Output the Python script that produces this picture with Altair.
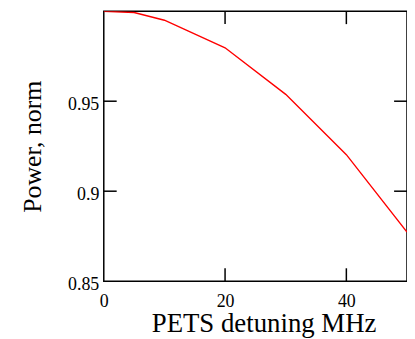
import altair as alt
import pandas as pd

detuning = [0, 5, 10, 20, 30, 40, 50]
power = [1.0, 0.9993, 0.995, 0.9797, 0.9538, 0.9203, 0.8773]
x_ticks = [0, 20, 40]
y_ticks = [0.85, 0.9, 0.95]
x_inner_ticks = [20, 40]
y_inner_ticks = [0.9, 0.95]

W, H = 305.5, 272
TL = 13
FONT = "Liberation Serif"

df = pd.DataFrame({"x": detuning, "y": power})
xt = pd.DataFrame({"x": x_inner_ticks})
yt = pd.DataFrame({"y": y_inner_ticks})

xscale = alt.Scale(domain=[0, 50], nice=False, zero=False)
yscale = alt.Scale(domain=[0.85, 1.0], nice=False, zero=False)

xaxis = alt.Axis(values=x_ticks, title="PETS detuning MHz", labelPadding=11,
                 titlePadding=1, titleX=161, titleFontSize=27, labelExpr="datum.value + ''",
                 labelFont=FONT, labelFontSize=18)
yaxis = alt.Axis(values=y_ticks, title="Power, norm", labelPadding=5, labelOffset=3,
                 titlePadding=22, labelExpr="datum.value + ''",
                 labelFont=FONT, labelFontSize=18)

line = alt.Chart(df).mark_line(color="#ff0000", strokeWidth=1.4, clip=True).encode(
    x=alt.X("x:Q", scale=xscale, axis=xaxis, title="PETS detuning MHz"),
    y=alt.Y("y:Q", scale=yscale, axis=yaxis, title="Power, norm"),
)

bottom = alt.Chart(xt).mark_rule(color="black", strokeWidth=1.5).encode(
    x=alt.X("x:Q", scale=xscale, axis=xaxis, title="PETS detuning MHz"),
    y=alt.value(H), y2=alt.value(H - TL))
top = alt.Chart(xt).mark_rule(color="black", strokeWidth=1.5).encode(
    x=alt.X("x:Q", scale=xscale, axis=xaxis, title="PETS detuning MHz"),
    y=alt.value(0), y2=alt.value(TL))
left = alt.Chart(yt).mark_rule(color="black", strokeWidth=1.5).encode(
    y=alt.Y("y:Q", scale=yscale, axis=yaxis, title="Power, norm"),
    x=alt.value(0), x2=alt.value(TL))
right = alt.Chart(yt).mark_rule(color="black", strokeWidth=1.5).encode(
    y=alt.Y("y:Q", scale=yscale, axis=yaxis, title="Power, norm"),
    x=alt.value(W), x2=alt.value(W - TL))

chart = alt.layer(line, bottom, top, left, right).properties(
    width=W, height=H,
    background="white",
    autosize=alt.AutoSizeParams(type="none"),
    padding={"left": 96.5, "top": 2, "right": 0, "bottom": 57},
).configure(
    font=FONT,
).configure_view(stroke="black", strokeWidth=1.5).configure_axis(
    tickSize=0, domain=False, grid=False, labelFlush=False,
    labelFont=FONT, labelFontSize=18, labelColor="black",
    titleFont=FONT, titleFontSize=26, titleFontWeight="normal", titleColor="black",
)

chart.save("out.html", embed_options={"renderer": "svg", "actions": False})
